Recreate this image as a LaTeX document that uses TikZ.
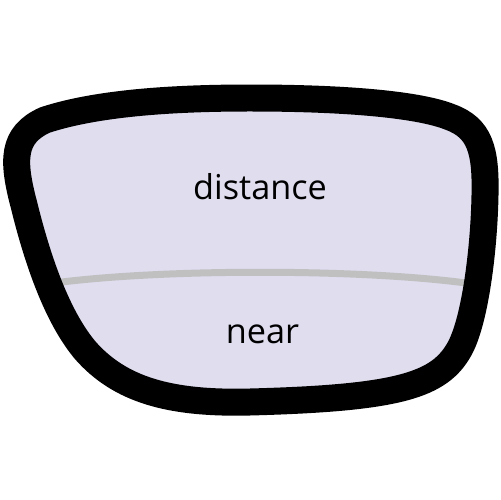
\documentclass[tikz,border=0pt]{standalone}
\usepackage{fontspec}
\setmainfont{Open Sans}
\definecolor{lensfill}{RGB}{224,221,239}
\definecolor{divgray}{RGB}{192,192,192}
\tikzset{
  lenslabel/.style={font=\fontsize{19.5}{22}\selectfont, text=black, inner sep=0pt, anchor=base},
  rim/.style={draw=black, line width=0.54cm, line join=round},
  divider/.style={draw=divgray, line width=0.14cm}
}
\begin{document}
\begin{tikzpicture}[x=0.02cm,y=-0.02cm]
\useasboundingbox (0,0) rectangle (500,500);
\def\lenspath{(250,98) .. controls (350,98) and (420,105) .. (450,117)
  .. controls (480,128) and (486,150) .. (485,195)
  .. controls (484,250) and (475,320) .. (460,348)
  .. controls (440,385) and (400,398) .. (250,402)
  .. controls (170,404) and (120,390) .. (85,350)
  .. controls (60,320) and (40,270) .. (24,205)
  .. controls (12,160) and (12,135) .. (45,120)
  .. controls (100,102) and (180,98) .. (250,98) -- cycle}
\fill[lensfill] \lenspath;
\begin{scope}
\clip \lenspath;
\draw[divider] (40,285) .. controls (150,268) and (370,268) .. (480,285);
\end{scope}
\draw[rim] \lenspath;
\node[lenslabel] (dist) at (260,199) {distance};
\node[lenslabel] (near) at (262.5,343) {near};
\end{tikzpicture}
\end{document}
